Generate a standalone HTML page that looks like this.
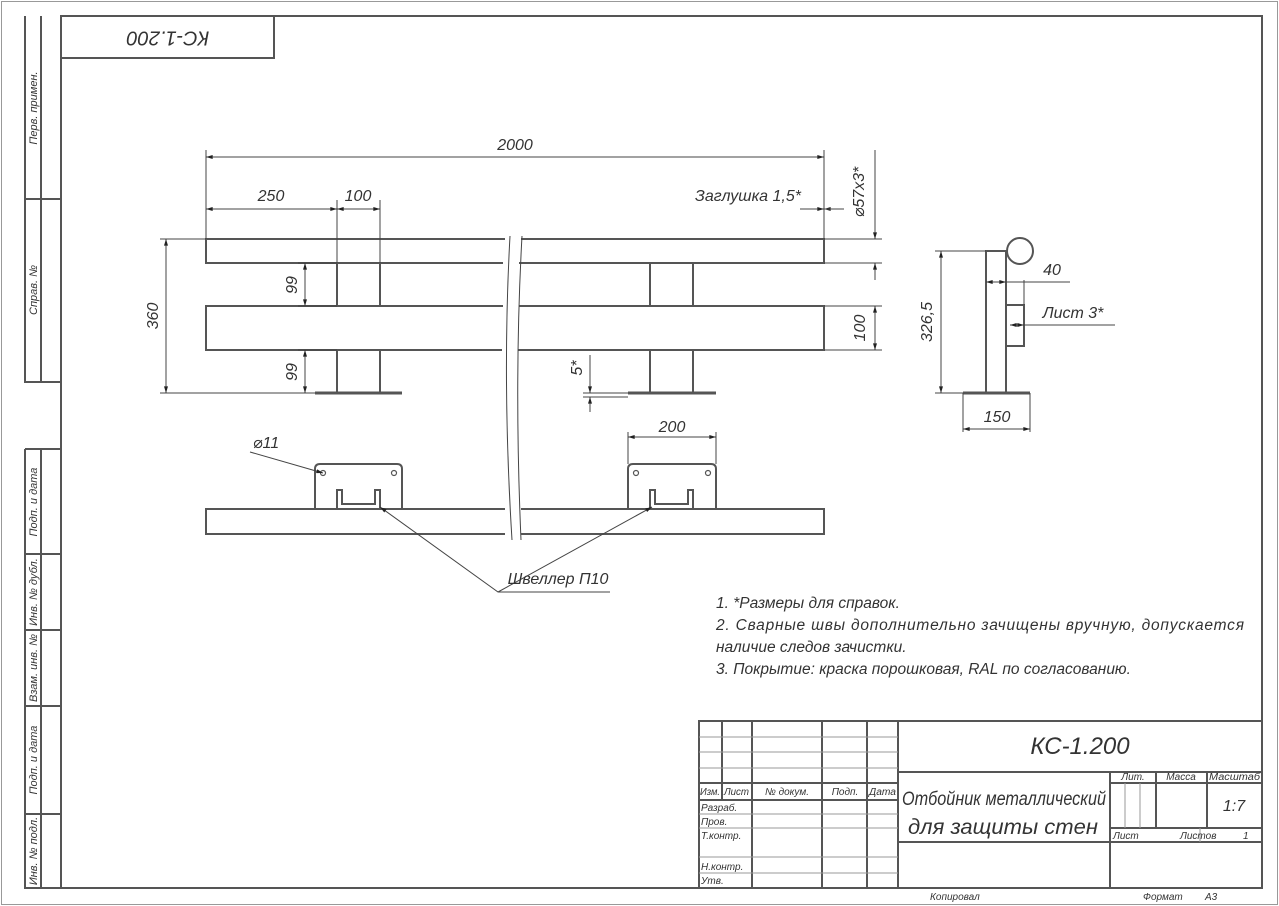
<!DOCTYPE html>
<html><head><meta charset="utf-8"><style>
body{margin:0;background:#fff;}
svg{display:block;}
text{font-family:"Liberation Sans","DejaVu Sans",sans-serif;font-style:italic;fill:#333;}
</style></head><body>
<svg width="1279" height="906" viewBox="0 0 1279 906" xmlns="http://www.w3.org/2000/svg">
<defs>
<marker id="a" viewBox="0 0 10 6" refX="10" refY="3" markerWidth="10" markerHeight="4" orient="auto-start-reverse"><path d="M0,0 L10,3 L0,6z" fill="#222"/></marker>
</defs>
<rect x="1.5" y="1.5" width="1276" height="903" fill="none" stroke="#999" stroke-width="1"/>
<g fill="none" stroke="#555" stroke-width="2">
<rect x="61" y="16" width="1201" height="872"/>
<rect x="61" y="16" width="213" height="42"/>
<path d="M25,16 V382 H61 M41,16 V382 M25,199 H61"/>
<path d="M25,449 V888 H61 M41,449 V888 M25,449 H61 M25,554 H61 M25,630 H61 M25,706 H61 M25,814 H61"/>
</g>
<text transform="translate(168,37) rotate(180)" font-size="20" text-anchor="middle" dominant-baseline="middle">КС-1.200</text>
<g font-size="11">
<text transform="translate(37,108) rotate(-90)" text-anchor="middle">Перв. примен.</text>
<text transform="translate(37,290) rotate(-90)" text-anchor="middle">Справ. №</text>
<text transform="translate(37,502) rotate(-90)" text-anchor="middle">Подп. и дата</text>
<text transform="translate(37,592) rotate(-90)" text-anchor="middle">Инв. № дубл.</text>
<text transform="translate(37,668) rotate(-90)" text-anchor="middle">Взам. инв. №</text>
<text transform="translate(37,760) rotate(-90)" text-anchor="middle">Подп. и дата</text>
<text transform="translate(37,851) rotate(-90)" text-anchor="middle">Инв. № подл.</text>
</g>

<!-- front view -->
<g fill="none" stroke="#555" stroke-width="2">
<path d="M505,239 H206 V263 H503 M521,239 H824 V263 H519"/>
<path d="M503,306 H206 V350 H502 M519,306 H824 V350 H518"/>
<path d="M337,263 V306 M380,263 V306 M337,350 V393 M380,350 V393"/>
<path d="M650,263 V306 M693,263 V306 M650,350 V393 M693,350 V393"/>
</g>
<g stroke="#555" stroke-width="3"><path d="M315,393 H402 M628,393 H716"/></g>
<g fill="none" stroke="#444" stroke-width="1">
<path d="M510,236 Q502,380 512,540 M522,236 Q514,380 521,540"/>
<path d="M206,150 V239 M824,150 V239 M337,200 V263 M380,200 V263"/>
<path d="M206,157 H824" marker-start="url(#a)" marker-end="url(#a)"/>
<path d="M206,209 H337" marker-start="url(#a)" marker-end="url(#a)"/>
<path d="M337,209 H380" marker-start="url(#a)" marker-end="url(#a)"/>
<path d="M800,209 H824" marker-end="url(#a)"/><path d="M844,209 H824" marker-end="url(#a)"/>
<path d="M824,209 H835"/>
<path d="M160,239 H206 M160,393 H315"/>
<path d="M166,239 V393" marker-start="url(#a)" marker-end="url(#a)"/>
<path d="M298,263 H337 M298,306 H337 M298,350 H337"/>
<path d="M305,263 V306" marker-start="url(#a)" marker-end="url(#a)"/>
<path d="M305,350 V393" marker-start="url(#a)" marker-end="url(#a)"/>
<path d="M824,239 H882 M824,263 H882 M824,306 H882 M824,350 H882"/>
<path d="M875,150 V239" marker-end="url(#a)"/><path d="M875,280 V263" marker-end="url(#a)"/>
<path d="M875,306 V350" marker-start="url(#a)" marker-end="url(#a)"/>
<path d="M583,393 H628 M583,397 H628"/>
<path d="M590,355 V393" marker-end="url(#a)"/><path d="M590,412 V397" marker-end="url(#a)"/>
</g>
<g font-size="16">
<text x="515" y="150" text-anchor="middle">2000</text>
<text x="271" y="201" text-anchor="middle">250</text>
<text x="358" y="201" text-anchor="middle">100</text>
<text x="748" y="201" text-anchor="middle">Заглушка 1,5*</text>
<text transform="translate(864,192) rotate(-90)" text-anchor="middle">⌀57х3*</text>
<text transform="translate(158,316) rotate(-90)" text-anchor="middle">360</text>
<text transform="translate(297,285) rotate(-90)" text-anchor="middle">99</text>
<text transform="translate(297,372) rotate(-90)" text-anchor="middle">99</text>
<text transform="translate(865,328) rotate(-90)" text-anchor="middle">100</text>
<text transform="translate(582,368) rotate(-90)" text-anchor="middle">5*</text>
</g>

<!-- side view -->
<g fill="none" stroke="#555" stroke-width="2">
<rect x="986" y="251" width="20" height="142"/>
<circle cx="1020" cy="251" r="13"/>
<path d="M1006,305 H1024 V346 H1006"/>
</g>
<path d="M963,393 H1030" stroke="#555" stroke-width="3"/>
<g fill="none" stroke="#444" stroke-width="1">
<path d="M935,251 H986 M935,393 H963"/>
<path d="M941,251 V393" marker-start="url(#a)" marker-end="url(#a)"/>
<path d="M986,282 H1006" marker-start="url(#a)" marker-end="url(#a)"/><path d="M1006,282 H1070 M1024,280 V305"/>
<path d="M1010,325 H1024" marker-start="url(#a)" marker-end="url(#a)"/><path d="M1024,325 H1115"/>
<path d="M963,393 V432 M1030,393 V432"/>
<path d="M963,429 H1030" marker-start="url(#a)" marker-end="url(#a)"/>
</g>
<g font-size="16">
<text x="1052" y="275" text-anchor="middle">40</text>
<text x="1073" y="318" text-anchor="middle">Лист 3*</text>
<text transform="translate(932,322) rotate(-90)" text-anchor="middle">326,5</text>
<text x="997" y="422" text-anchor="middle">150</text>
</g>

<!-- plan view -->
<g fill="none" stroke="#555" stroke-width="2">
<path d="M505,509 H206 V534 H505 M521,509 H824 V534 H521"/>
<path d="M315,509 V469 Q315,464 320,464 H397 Q402,464 402,469 V509"/>
<path d="M628,509 V469 Q628,464 633,464 H711 Q716,464 716,469 V509"/>
<path d="M337,509 V490 H342 V504 H375 V490 H380 V509"/>
<path d="M650,509 V490 H655 V504 H688 V490 H693 V509"/>
</g>
<g fill="none" stroke="#555" stroke-width="1.2">
<circle cx="323" cy="473" r="2.5"/><circle cx="394" cy="473" r="2.5"/>
<circle cx="636" cy="473" r="2.5"/><circle cx="708" cy="473" r="2.5"/>
</g>
<g fill="none" stroke="#444" stroke-width="1">
<path d="M250,452 L323,473" marker-end="url(#a)"/>
<path d="M628,464 V432 M716,464 V432"/>
<path d="M628,437 H716" marker-start="url(#a)" marker-end="url(#a)"/>
<path d="M610,592 H498 L380,507" marker-end="url(#a)"/>
<path d="M498,592 L652,507" marker-end="url(#a)"/>
</g>
<g font-size="16">
<text x="266" y="448" text-anchor="middle">⌀11</text>
<text x="672" y="432" text-anchor="middle">200</text>
<text x="558" y="584" text-anchor="middle">Швеллер П10</text>
</g>

<g font-size="15.5">
<text x="716" y="608">1.  *Размеры для справок.</text>
<text x="716" y="630" textLength="528" lengthAdjust="spacing">2.  Сварные  швы  дополнительно  зачищены  вручную,  допускается</text>
<text x="716" y="652">наличие следов зачистки.</text>
<text x="716" y="674">3.  Покрытие: краска порошковая, RAL по согласованию.</text>
</g>

<!-- title block -->
<g fill="none" stroke="#555" stroke-width="2">
<rect x="699" y="721" width="563" height="167"/>
<path d="M722,721 V800 M752,721 V888 M822,721 V888 M867,721 V888 M898,721 V888"/>
<path d="M699,783 H898 M699,800 H898 M898,772 H1262 M898,842 H1262 M1110,772 V888 M1156,772 V828 M1207,772 V828 M1110,783 H1262 M1110,828 H1262 M1110,842 H1262"/>
</g>
<g fill="none" stroke="#999" stroke-width="1">
<path d="M699,737 H898 M699,752 H898 M699,768 H898 M699,814 H898 M699,828 H898 M699,857 H898 M699,873 H898 M1125,783 V828 M1140,783 V828 M1200,828 V842"/>
</g>
<g font-size="10">
<text x="700" y="795" textLength="20" lengthAdjust="spacingAndGlyphs">Изм.</text><text x="724" y="795" textLength="25" lengthAdjust="spacingAndGlyphs">Лист</text><text x="787" y="795" text-anchor="middle">№ докум.</text><text x="845" y="795" text-anchor="middle">Подп.</text><text x="869" y="795" textLength="27" lengthAdjust="spacingAndGlyphs">Дата</text>
<text x="701" y="811">Разраб.</text><text x="701" y="825">Пров.</text><text x="701" y="839">Т.контр.</text>
<text x="701" y="870">Н.контр.</text><text x="701" y="884">Утв.</text>
<text x="1133" y="780" text-anchor="middle">Лит.</text><text x="1181" y="780" text-anchor="middle">Масса</text><text x="1209" y="780" textLength="51" lengthAdjust="spacingAndGlyphs">Масштаб</text>
<text x="1113" y="839">Лист</text><text x="1180" y="839">Листов</text><text x="1243" y="839">1</text>
<text x="930" y="900">Копировал</text><text x="1143" y="900">Формат</text><text x="1205" y="900">А3</text>
</g>
<text x="1080" y="754" font-size="24" text-anchor="middle">КС-1.200</text>
<text x="902" y="805" font-size="19" textLength="204" lengthAdjust="spacingAndGlyphs">Отбойник металлический</text>
<text x="908" y="834" font-size="21" textLength="190" lengthAdjust="spacingAndGlyphs">для защиты стен</text>
<text x="1234" y="811" font-size="16" text-anchor="middle">1:7</text>
</svg>
</body></html>
